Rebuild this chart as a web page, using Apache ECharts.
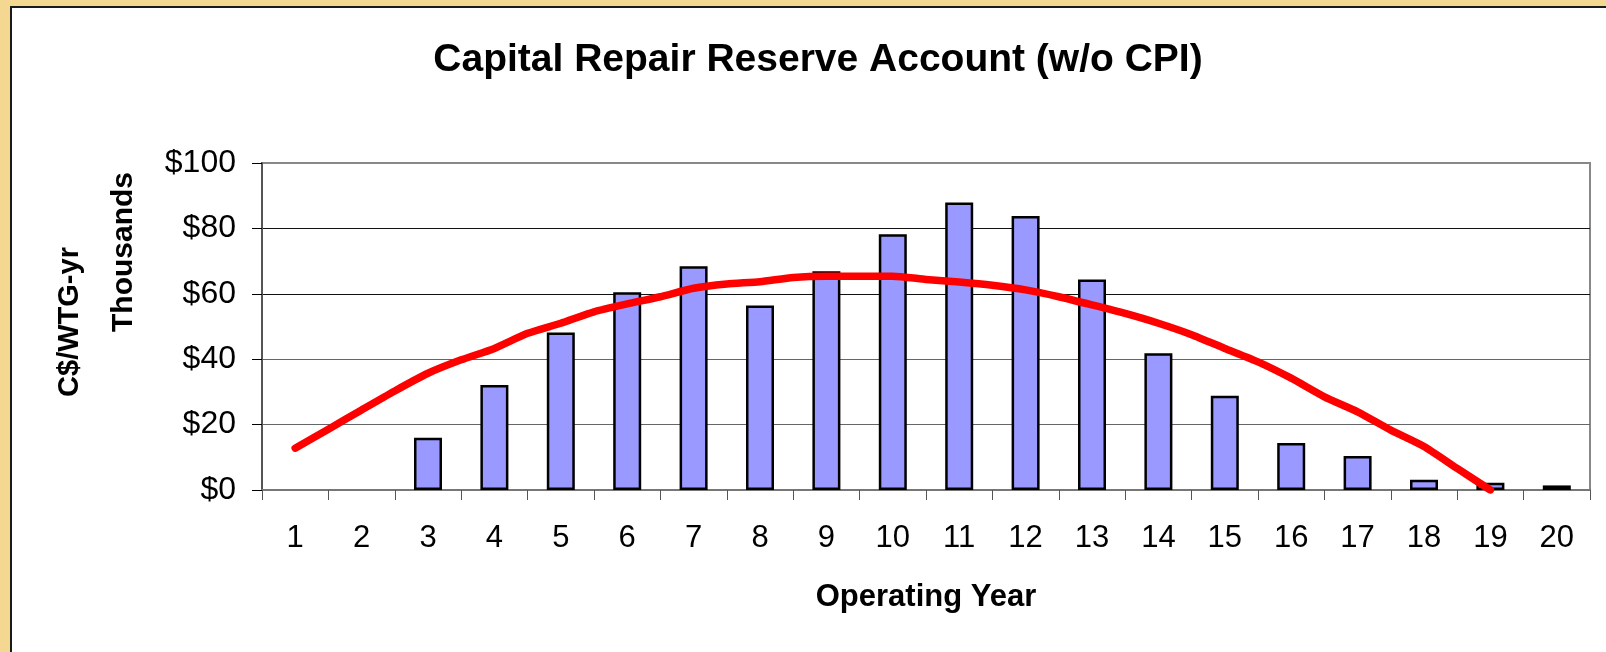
<!DOCTYPE html>
<html>
<head>
<meta charset="utf-8">
<script src="https://cdn.jsdelivr.net/npm/echarts@6/dist/echarts.min.js"></script>
<style>
  html, body { margin: 0; padding: 0; background: #F4D892; }
  #chart { width: 1606px; height: 652px; }
</style>
</head>
<body>
<div id="chart"></div>
<script>
// 运营年份
const years = ['1', '2', '3', '4', '5', '6', '7', '8', '9', '10',
  '11', '12', '13', '14', '15', '16', '17', '18', '19', '20']
// 年度资本维修支出 (千元)
const repairCost = [0, 0, 16.0, 32.1, 48.2, 60.5, 68.4, 56.4, 66.9, 78.2,
  87.9, 83.8, 64.4, 41.8, 28.8, 14.4, 10.4, 3.1, 2.2, 1.4]
// 储备账户余额, 每半年读一个点
const reserveYear = [1, 1.5, 2, 2.5, 3, 3.5, 4, 4.5, 5, 5.5, 6, 6.5, 7, 7.5, 8, 8.5, 9, 9.5, 10,
  10.5, 11, 11.5, 12, 12.5, 13, 13.5, 14, 14.5, 15, 15.5, 16, 16.5, 17, 17.5, 18, 18.5, 19]
const reserveBalance = [12.8, 18.6, 24.5, 30.3, 35.7, 39.8, 43.3, 47.9, 51.0, 54.5, 56.9, 59.1, 61.7, 63.0, 63.7, 65.0, 65.4, 65.4, 65.4,
  64.4, 63.6, 62.6, 61.2, 59.1, 56.6, 54.0, 51.0, 47.5, 43.3, 39.2, 34.2, 28.5, 23.9, 18.3, 13.3, 6.6, 0]
const yTicks = [0, 20, 40, 60, 80, 100]

const FONT = '"Liberation Sans", Arial, sans-serif'

const chart = echarts.init(document.getElementById('chart'), null, { renderer: 'canvas' })

const options = {
  backgroundColor: '#F4D892',
  animation: false,
  title: {
    text: 'Capital Repair Reserve Account (w/o CPI)',
    left: 813,
    top: 36,
    textAlign: 'center',
    textStyle: { fontFamily: FONT, fontSize: 39, fontWeight: 'bold', color: '#000' }
  },
  graphic: [
    {
      type: 'rect',
      z: -100,
      silent: true,
      shape: { x: 11, y: 7, width: 1640, height: 700 },
      style: { fill: '#fff', stroke: '#1a1a1a', lineWidth: 2 }
    },
    {
      type: 'text',
      x: 70,
      y: 322,
      rotation: Math.PI / 2,
      style: { text: 'C$/WTG-yr', font: 'bold 29px ' + FONT, fill: '#000', align: 'center', verticalAlign: 'middle' }
    },
    {
      type: 'text',
      x: 124,
      y: 252,
      rotation: Math.PI / 2,
      style: { text: 'Thousands', font: 'bold 30px ' + FONT, fill: '#000', align: 'center', verticalAlign: 'middle' }
    }
  ],
  grid: {
    left: 262,
    top: 163,
    right: 16,
    bottom: 162,
    show: true,
    backgroundColor: 'transparent',
    borderColor: '#888',
    borderWidth: 2
  },
  xAxis: [
    {
      type: 'category',
      data: years,
      boundaryGap: true,
      name: 'Operating Year',
      nameLocation: 'middle',
      nameGap: 92,
      nameTextStyle: { fontFamily: FONT, fontSize: 31, fontWeight: 'bold', color: '#000' },
      axisLine: { lineStyle: { color: '#777', width: 2 } },
      axisTick: { show: true, length: 10, lineStyle: { color: '#555', width: 1 } },
      axisLabel: { fontFamily: FONT, fontSize: 31, color: '#000', margin: 33 }
    },
    {
      type: 'value',
      min: 0.5,
      max: 20.5,
      show: false
    }
  ],
  yAxis: {
    type: 'value',
    min: yTicks[0],
    max: yTicks[yTicks.length - 1],
    interval: 20,
    axisLine: { show: true, lineStyle: { color: '#555', width: 2 } },
    axisTick: { show: true, length: 10, lineStyle: { color: '#000', width: 1 } },
    axisLabel: {
      fontFamily: FONT, fontSize: 32, color: '#000', margin: 26,
      formatter: v => '$' + v
    },
    splitLine: { lineStyle: { color: ['#666', '#666', '#666', '#111', '#111', '#888'], width: 1 } }
  },
  series: [
    {
      name: 'Capital Repair',
      type: 'bar',
      xAxisIndex: 0,
      // 第1、2年没有支出, 不画柱子
      data: repairCost.map(v => (v === 0 ? null : v)),
      barWidth: 28,
      itemStyle: { color: '#9999FF', borderColor: '#000', borderWidth: 2.5 }
    },
    {
      name: 'Reserve Balance',
      type: 'line',
      xAxisIndex: 1,
      data: reserveYear.map((x, i) => [x, reserveBalance[i]]),
      showSymbol: false,
      smooth: 0.2,
      z: 5,
      lineStyle: { color: '#FF0000', width: 7.5, cap: 'round', join: 'round' }
    }
  ]
}

chart.setOption(options)
</script>
</body>
</html>
